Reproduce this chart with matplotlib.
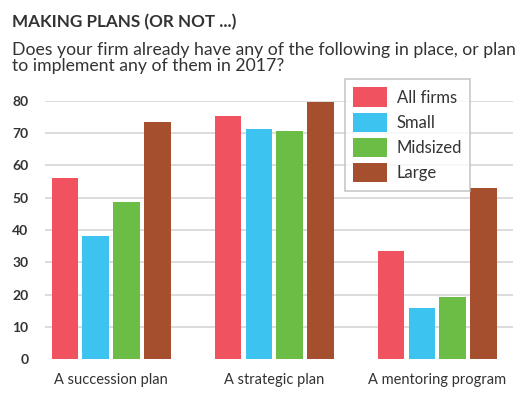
import numpy as np
import matplotlib
matplotlib.use("Agg")
import matplotlib.pyplot as plt
from matplotlib.patches import Patch

plt.rcParams['font.family'] = ['Lato', 'DejaVu Sans']

categories = ["A succession plan", "A strategic plan", "A mentoring program"]
series = ["All firms", "Small", "Midsized", "Large"]
all_firms = [56.2, 75.3, 33.6]
small = [38.2, 71.2, 15.7]
midsized = [48.6, 70.6, 19.1]
large = [73.5, 79.8, 52.9]
yticks = [0, 10, 20, 30, 40, 50, 60, 70, 80]

colors = ["#F0525F", "#3CC3F0", "#6CBD45", "#A64F2E"]
text_col = "#333333"

W, H = 531, 395
fig = plt.figure(figsize=(W / 100, H / 100), dpi=100)
fig.patch.set_facecolor("white")

# axes placed in pixel terms
left, right, top, bottom = 45, 513, 101, 359
ax = fig.add_axes([left / W, 1 - bottom / H, (right - left) / W, (bottom - top) / H])

x = np.arange(len(categories))
step = 0.19
width = 0.16
for i, (vals, c) in enumerate(zip([all_firms, small, midsized, large], colors)):
    ax.bar(x + (i - 1.5) * step, vals, width, color=c, zorder=3)

ax.set_xlim(-0.405, 2.466)
ax.set_ylim(0, 80)
ax.set_yticks(yticks)
ax.set_yticklabels([str(t) for t in yticks], fontsize=10, fontweight="bold", color=text_col)
ax.set_xticks(x)
ax.set_xticklabels(categories, fontsize=10.5, color=text_col)
ax.tick_params(length=0)
ax.tick_params(axis="y", pad=12)
ax.tick_params(axis="x", pad=10)
for t in yticks[1:]:
    ax.axhline(t, color="#d6d6d6", lw=1.2, zorder=1)
for s in ax.spines.values():
    s.set_visible(False)

handles = [Patch(facecolor=c, label=s) for c, s in zip(colors, series)]
leg = ax.legend(handles=handles, loc="upper left", bbox_to_anchor=((345 - left) / (right - left), 1.085),
                fontsize=12, frameon=True, fancybox=False, edgecolor="#bbbbbb",
                handlelength=2.0, handleheight=1.4, labelspacing=0.36, borderpad=0.5,
                handletextpad=0.6, borderaxespad=0)
leg.get_frame().set_linewidth(1.2)
for t in leg.get_texts():
    t.set_color(text_col)
leg.set_zorder(5)

fig.text(12 / W, 1 - 22 / H, "MAKING PLANS (OR NOT ...)", fontsize=12.3, fontweight="bold",
         color=text_col, va="center", ha="left")
fig.text(12 / W, 1 - 58 / H,
         "Does your firm already have any of the following in place, or plan\nto implement any of them in 2017?",
         fontsize=12.7, color=text_col, va="center", ha="left", linespacing=1.05)

fig.savefig("out.png", dpi=100)
